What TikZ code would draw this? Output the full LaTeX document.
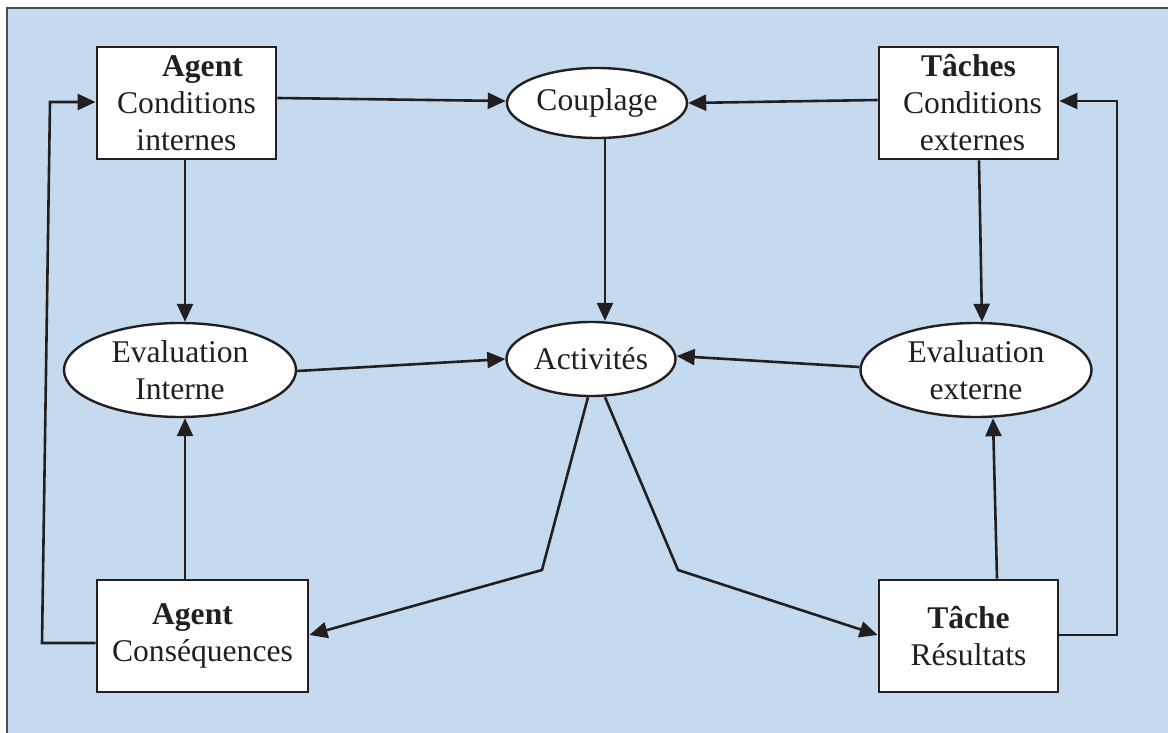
\documentclass[tikz,border=0pt]{standalone}
\usepackage{fontspec}
\setmainfont{Liberation Serif}
\usetikzlibrary{arrows.meta,shapes.geometric}
\definecolor{bgblue}{RGB}{197,217,239}
\definecolor{ink}{RGB}{35,31,32}
\begin{document}
\begin{tikzpicture}[x=0.5pt,y=-0.5pt,
  txt/.style={font=\fontsize{15.8pt}{18.5pt}\selectfont, text=ink, align=center},
  boxn/.style={txt, draw=ink, line width=1.4pt, fill=white, rectangle, inner sep=0pt, minimum height=56pt},
  ell/.style={txt, draw=ink, line width=1.2pt, fill=white, ellipse, inner sep=0pt},
  conn/.style={draw=ink, line width=1.3pt},
  arr/.style={conn, -{Triangle[length=9pt,width=8pt]}}
]
\useasboundingbox (0,0) rectangle (1168,733);
\fill[bgblue] (7,8) rectangle (1168,733);
\draw[draw=ink!80, line width=1.3pt] (7,733) -- (7,8) -- (1168,8);

% nodes
\node[boxn, minimum width=89.5pt] (agc) at (186.5,103) {\hspace*{16pt}\textbf{Agent}\\Conditions\\internes};
\node[boxn, minimum width=89.5pt] (tc) at (968.5,103) {\textbf{Tâches}\\\hspace*{4pt}Conditions\\\hspace*{4pt}externes};
\node[boxn, minimum width=105.5pt] (ac) at (202.5,636) {\hspace*{-10pt}\textbf{Agent}\\Conséquences};
\node[boxn, minimum width=89.5pt] (tr) at (968.5,636) {\textbf{Tâche}\\Résultats};

\node[ell, minimum width=90pt, minimum height=35pt] (cp) at (597,103) {Couplage};
\node[ell, minimum width=84.5pt, minimum height=37pt] (act) at (591,359) {Activités};
\node[ell, minimum width=116pt, minimum height=47pt] (ei) at (180,370) {Evaluation\\Interne};
\node[ell, minimum width=115.5pt, minimum height=47pt] (ee) at (976,370) {Evaluation\\externe};

\coordinate (vl) at (605,0);
\coordinate (bl) at (542,570);
\coordinate (br) at (678,570);
\coordinate (ll1) at (42,643);
\coordinate (ll2) at (50,102);
\coordinate (rl1) at (1117,635);
\coordinate (rl2) at (1117,101);

% connectors
\draw[arr] ([yshift=2.5pt]agc.east) -- ([yshift=1pt]cp.west);
\draw[arr] ([yshift=1.5pt]tc.west) -- (cp.east);
\draw[arr] (cp.south -| vl) -- (act.north -| vl);
\draw[arr] ([xshift=-0.75pt]agc.south) -- ([xshift=2.5pt]ei.north);
\draw[arr] ([xshift=5.25pt]tc.south) -- ([xshift=3pt]ee.north);
\draw[arr] ([yshift=-0.5pt]ei.east) -- (act.west);
\draw[arr] ([yshift=1.5pt]ee.west) -- ([yshift=1.5pt]act.east);
\draw[arr] ([xshift=-8.75pt]ac.north) -- ([xshift=2.5pt]ei.south);
\draw[arr] ([xshift=14.25pt]tr.north) -- ([xshift=8.5pt]ee.south);
\draw[arr] ([xshift=-1.5pt]act.south) -- (bl) -- ([yshift=0.5pt]ac.east);
\draw[arr] ([xshift=7pt]act.south) -- (br) -- ([yshift=0.5pt]tr.west);
\draw[arr] ([yshift=-3.5pt]ac.west) -- (ll1) -- (ll2) -- ([yshift=0.5pt]agc.west);
\draw[arr] ([yshift=0.5pt]tr.east) -- (rl1) -- (rl2) -- ([yshift=1pt]tc.east);
\end{tikzpicture}
\end{document}
